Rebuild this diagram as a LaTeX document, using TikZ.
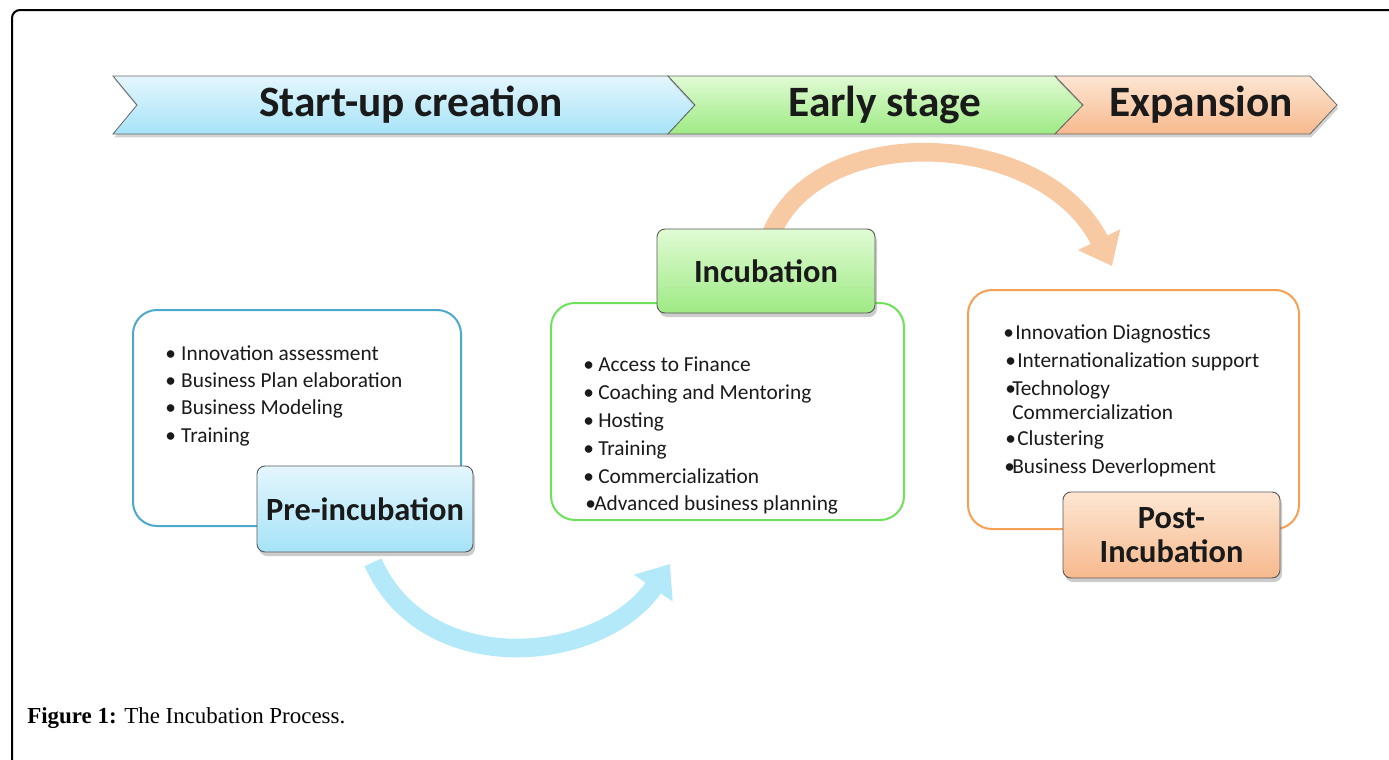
\documentclass[tikz,border=0pt]{standalone}
\usepackage{fontspec}
\setmainfont{Carlito}
\newfontfamily\capfont{Liberation Serif}
\usetikzlibrary{arrows.meta,shadows}
\definecolor{bTop}{HTML}{E4F6FD}
\definecolor{bBot}{HTML}{A6E3F8}
\definecolor{gTop}{HTML}{E0FBD4}
\definecolor{gBot}{HTML}{9EEA84}
\definecolor{oTop}{HTML}{FDE6D2}
\definecolor{oBot}{HTML}{F7B98E}
\definecolor{bLine}{HTML}{4DA9C9}
\definecolor{gLine}{HTML}{6EE05A}
\definecolor{oLine}{HTML}{F5A055}
\definecolor{bArrow}{HTML}{B4E9F9}
\definecolor{oArrow}{HTML}{F8CAA4}
\definecolor{txt}{HTML}{1A1A1A}
\newcommand\itm[2]{\makebox[#1][l]{•}#2}
\begin{document}
\begin{tikzpicture}[x=0.75pt,y=-0.75pt,
  banner/.style={draw=black!60, line width=0.6pt, drop shadow={shadow xshift=1pt, shadow yshift=-2.5pt, opacity=0.35}},
  bannertext/.style={font=\fontsize{32.5}{36}\selectfont\bfseries, text=txt, inner sep=0pt},
  listbox/.style={rounded corners=18pt, line width=1.5pt, fill=white},
  stagelabel/.style={draw=black!65, line width=0.7pt, rounded corners=6pt, font=\fontsize{24.3}{26}\selectfont\bfseries, text=txt, align=center, drop shadow={shadow xshift=1.5pt, shadow yshift=-3pt, opacity=0.4}},
  item/.style={anchor=base west, font=\fontsize{16}{19}\selectfont, inner sep=0pt, text=txt},
  flow/.style={line width=14pt}
]
\useasboundingbox (0,0) rectangle (1389,760);
% frame
\draw[line width=1.5pt, rounded corners=6pt] (12,760) -- (12,10) -- (1389,10);
% banner
\path[banner, top color=bTop, bottom color=bBot] (113,76) -- (668,76) -- (695,105) -- (668,134) -- (113,134) -- (137,105) -- cycle;
\path[banner, top color=gTop, bottom color=gBot] (668,76) -- (1055,76) -- (1083,105) -- (1055,134) -- (668,134) -- (695,105) -- cycle;
\path[banner, top color=oTop, bottom color=oBot] (1055,76) -- (1310,76) -- (1337,105) -- (1310,134) -- (1055,134) -- (1083,105) -- cycle;
\node[bannertext] (s1) at (411,105) {Start-up creation};
\node[bannertext] (s2) at (885,105) {Early stage};
\node[bannertext] (s3) at (1201,105) {Expansion};
% list boxes
\node[listbox, draw=bLine, minimum width=246pt, minimum height=162pt] (prebox) at (297,418) {};
\node[listbox, draw=gLine, minimum width=264.75pt, minimum height=162.75pt] (incbox) at (727.5,411.5) {};
\node[listbox, draw=oLine, minimum width=248.25pt, minimum height=179.25pt] (postbox) at (1133.5,409.5) {};
% coordinates for arrow ends
\coordinate (a1end) at (670,564);
\coordinate (a2end) at (1112,266);
% label centres (needed for arrows)
\path (365,509) coordinate (preC) (766,271) coordinate (incC);
% arrows
\draw[flow, draw=bArrow, -{Triangle[width=34pt,length=22pt]}] ([xshift=6pt,yshift=-40pt]preC) .. controls (425,680) and (600,665) .. (a1end);
\draw[flow, draw=oArrow, -{Triangle[width=34pt,length=22pt]}] ([xshift=4pt,yshift=28pt]incC) .. controls (820,118) and (1045,130) .. (a2end);
% stage labels
\node[stagelabel, top color=bTop, bottom color=bBot, minimum width=162pt, minimum height=64.5pt] (pre) at (preC) {Pre-incubation};
\node[stagelabel, top color=gTop, bottom color=gBot, minimum width=163.5pt, minimum height=63pt] (inc) at (incC) {Incubation};
\node[stagelabel, top color=oTop, bottom color=oBot, minimum width=162.75pt, minimum height=64.5pt] (post) at (1171.5,535) {Post-\\Incubation};
% pre list
\node[item] (p1) at (165,360) {\itm{12pt}{Innovation assessment}};
\node[item] (p2) at (165,387) {\itm{12pt}{Business Plan elaboration}};
\node[item] (p3) at (165,414) {\itm{12pt}{Business Modeling}};
\node[item] (p4) at (165,442) {\itm{12pt}{Training}};
% inc list
\node[item] (i1) at (583,371) {\itm{11.25pt}{Access to Finance}};
\node[item] (i2) at (583,399) {\itm{11.25pt}{Coaching and Mentoring}};
\node[item] (i3) at (583,427) {\itm{11.25pt}{Hosting}};
\node[item] (i4) at (583,455) {\itm{11.25pt}{Training}};
\node[item] (i5) at (583,483) {\itm{11.25pt}{Commercialization}};
\node[item] (i6) at (585,510) {\itm{6.75pt}{Advanced business planning}};
% post list
\node[item] (q1) at (1003,339) {\itm{9pt}{Innovation Diagnostics}};
\node[item] (q2) at (1005,367) {\itm{9pt}{Internationalization support}};
\node[item] (q3) at (1005,395) {\itm{5.25pt}{Technology}};
\node[item] (q4) at (1012,419) {Commercialization};
\node[item] (q5) at (1005,445) {\itm{9pt}{Clustering}};
\node[item] (q6) at (1004,473) {\itm{6pt}{Business Deverlopment}};
% caption
\node[anchor=west, inner sep=0pt, font=\capfont\fontsize{17.2}{20}\selectfont] (cap) at (27,718) {\textbf{Figure 1:} The Incubation Process.};
\end{tikzpicture}
\end{document}
